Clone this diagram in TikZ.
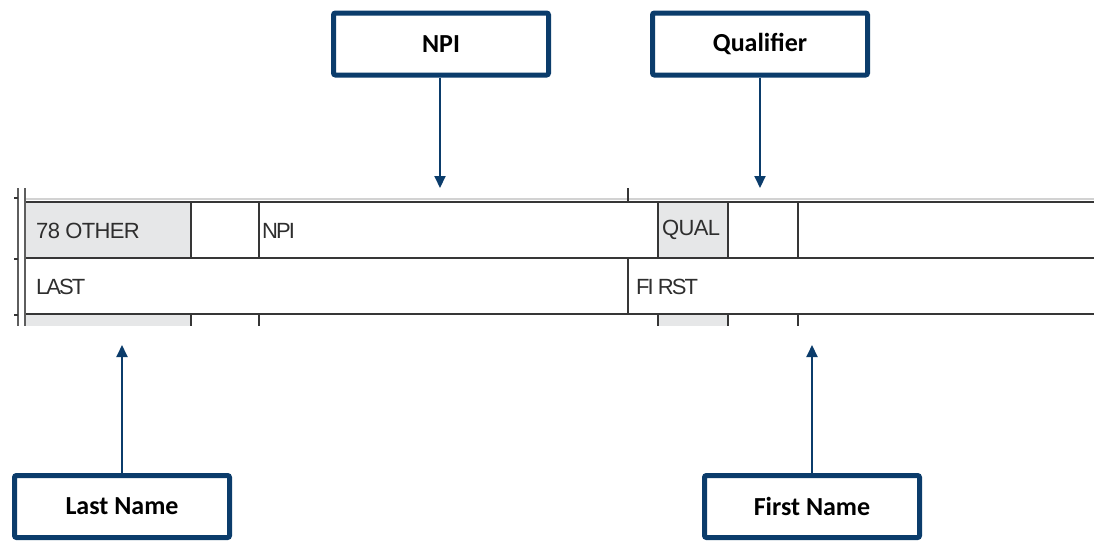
\documentclass[tikz,border=0pt]{standalone}
\usepackage{fontspec}
\setmainfont{Liberation Sans}
\newfontfamily\boxfont{Carlito}
\newfontfamily\formfont[LetterSpace=-3]{Liberation Sans}
\newfontfamily\tightfont[LetterSpace=-9]{Liberation Sans}
\usetikzlibrary{arrows.meta}
\definecolor{navy}{HTML}{0B3C6B}
\definecolor{cellgray}{HTML}{E6E7E8}
\definecolor{rulec}{HTML}{363636}
\definecolor{formtext}{HTML}{2E2E2E}
\tikzset{
  callout/.style={draw=navy, line width=5pt, fill=white, rounded corners=2pt,
    minimum width=215pt, minimum height=62pt, inner sep=0pt,
    font=\boxfont\bfseries\fontsize{26}{30}\selectfont, text=black},
  arr/.style={draw=navy, line width=2pt, -{Triangle[width=11pt,length=12pt]}},
  rulel/.style={draw=rulec, line width=2.2pt},
  cell/.style={fill=cellgray, draw=none},
  formlbl/.style={anchor=west, inner sep=0pt, text=formtext,
    font=\formfont\fontsize{22}{25}\selectfont},
  tightlbl/.style={formlbl, font=\tightfont\fontsize{22}{25}\selectfont}
}
\begin{document}
\begin{tikzpicture}[x=1pt,y=-1pt]
\useasboundingbox (0,0) rectangle (1094,542);
% cell fills
\fill[cell] (25,202) rectangle (191,258);
\fill[cell] (658,202) rectangle (728,258);
\fill[cell] (25,314) rectangle (191,326);
\fill[cell] (658,314) rectangle (728,326);
% light band above top rule
\draw[gray!35, line width=2pt] (25,199) -- (1094,199);
% horizontal rules
\draw[rulel] (25,202) -- (1094,202);
\draw[rulel] (25,258) -- (1094,258);
\draw[rulel] (25,314) -- (1094,314);
% left double line
\draw[draw=rulec!80, line width=2pt] (18,188) -- (18,326);
\draw[draw=rulec!80, line width=2pt] (25,188) -- (25,326);
\draw[rulel, line width=1.5pt] (14,198) -- (18,198);
\draw[rulel, line width=1.5pt] (14,259) -- (18,259);
\draw[rulel, line width=1.5pt] (14,315) -- (18,315);
% vertical rules
\foreach \x in {191,259,658,728,798}{
  \draw[rulel] (\x,202) -- (\x,258);
  \draw[rulel] (\x,314) -- (\x,326);
}
\draw[rulel] (628,188) -- (628,202);
\draw[rulel] (628,258) -- (628,314);
% form labels
\node[formlbl] (other) at (36,231) {78 OTHER};
\node[tightlbl] (npif) at (262,231) {NPI};
\node[formlbl] (qual) at (662,230) {QUAL};
\node[tightlbl] (last) at (36,287) {LAST};
\node[tightlbl] (first) at (636,287) {FI RST};
% callouts
\node[callout] (npi) at (441,44) {NPI};
\node[callout] (qualifier) at (760,44) {Qualifier};
\node[callout] (lastname) at (122,506.5) {Last Name};
\node[callout] (firstname) at (812,506.5) {First Name};
% arrow targets
\coordinate (npiT) at (440,188);
\coordinate (qualT) at (760,188);
\coordinate (lastT) at (122,345);
\coordinate (firstT) at (812,345);
\draw[arr] (npi.south -| npiT) -- (npiT);
\draw[arr] (qualifier.south) -- (qualT);
\draw[arr] (lastname.north) -- (lastT);
\draw[arr] (firstname.north) -- (firstT);
\end{tikzpicture}
\end{document}
